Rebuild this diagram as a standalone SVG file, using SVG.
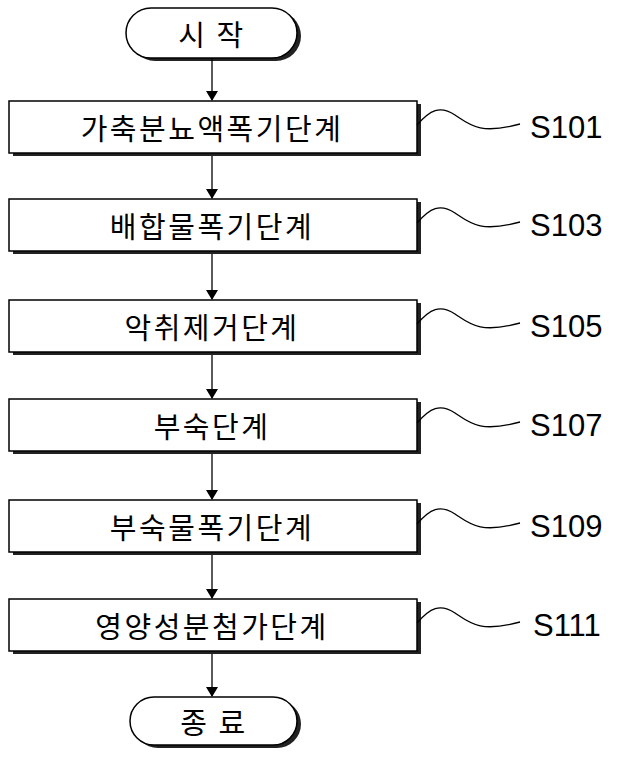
<svg xmlns="http://www.w3.org/2000/svg" width="617" height="757" viewBox="0 0 617 757">
<defs>
<marker id="ah" markerWidth="10" markerHeight="16" refX="9" refY="8" orient="auto" markerUnits="userSpaceOnUse"><path d="M0,2 L10,8 L0,14 Z" fill="#000"/></marker>
</defs>
<style>
.b{fill:#fff;stroke:#000;stroke-width:1.5}
.s{fill:#222}
.t{font-family:"Noto Sans CJK KR","Liberation Sans",sans-serif;font-size:29px;letter-spacing:2.5px;text-anchor:middle;dominant-baseline:central;fill:#000}
.l{font-family:"Liberation Sans",sans-serif;font-size:31px;fill:#000;dominant-baseline:central}
.c{fill:none;stroke:#000;stroke-width:1.3}
</style>
<rect width="617" height="757" fill="#fff"/>
<g id="start"><rect x="130" y="11" width="171" height="50" rx="25" class="s"/><rect x="126" y="8" width="171" height="50" rx="25" class="b"/><text x="212" y="33" class="t">시 작</text></g>
<g id="s101"><rect x="13" y="104" width="408" height="52" class="s"/><rect x="9" y="101" width="408" height="52" class="b"/><text x="212" y="127" class="t">가축분뇨액폭기단계</text><path class="c" d="M417,125 C430,110 440,105 455,115 C470,125 480,135 520,124"/><text x="530" y="127" class="l">S101</text></g>
<g id="s103"><rect x="13" y="202" width="408" height="52" class="s"/><rect x="9" y="199" width="408" height="52" class="b"/><text x="212" y="225" class="t">배합물폭기단계</text><path class="c" d="M417,223 C430,208 440,203 455,213 C470,223 480,233 520,222"/><text x="530" y="225" class="l">S103</text></g>
<g id="s105"><rect x="13" y="303" width="408" height="52" class="s"/><rect x="9" y="300" width="408" height="52" class="b"/><text x="212" y="326" class="t">악취제거단계</text><path class="c" d="M417,324 C430,309 440,304 455,314 C470,324 480,334 520,323"/><text x="530" y="326" class="l">S105</text></g>
<g id="s107"><rect x="13" y="402" width="408" height="52" class="s"/><rect x="9" y="399" width="408" height="52" class="b"/><text x="212" y="425" class="t">부숙단계</text><path class="c" d="M417,423 C430,408 440,403 455,413 C470,423 480,433 520,422"/><text x="530" y="425" class="l">S107</text></g>
<g id="s109"><rect x="13" y="503" width="408" height="52" class="s"/><rect x="9" y="500" width="408" height="52" class="b"/><text x="212" y="526" class="t">부숙물폭기단계</text><path class="c" d="M417,524 C430,509 440,504 455,514 C470,524 480,534 520,523"/><text x="530" y="526" class="l">S109</text></g>
<g id="s111"><rect x="13" y="602" width="408" height="52" class="s"/><rect x="9" y="599" width="408" height="52" class="b"/><text x="212" y="625" class="t">영양성분첨가단계</text><path class="c" d="M417,623 C430,608 440,603 455,613 C470,623 480,633 520,622"/><text x="533" y="625" class="l">S111</text></g>
<g id="end"><rect x="134" y="700" width="167" height="48" rx="24" class="s"/><rect x="130" y="697" width="167" height="48" rx="24" class="b"/><text x="214" y="721" class="t">종 료</text></g>
<g id="connectors" stroke="#000" stroke-width="1.3" marker-end="url(#ah)">
<line x1="212" y1="58" x2="212" y2="100"/>
<line x1="212" y1="156" x2="212" y2="198"/>
<line x1="212" y1="254" x2="212" y2="299"/>
<line x1="212" y1="355" x2="212" y2="398"/>
<line x1="212" y1="454" x2="212" y2="499"/>
<line x1="212" y1="555" x2="212" y2="598"/>
<line x1="212" y1="654" x2="212" y2="696"/>
</g>
</svg>
